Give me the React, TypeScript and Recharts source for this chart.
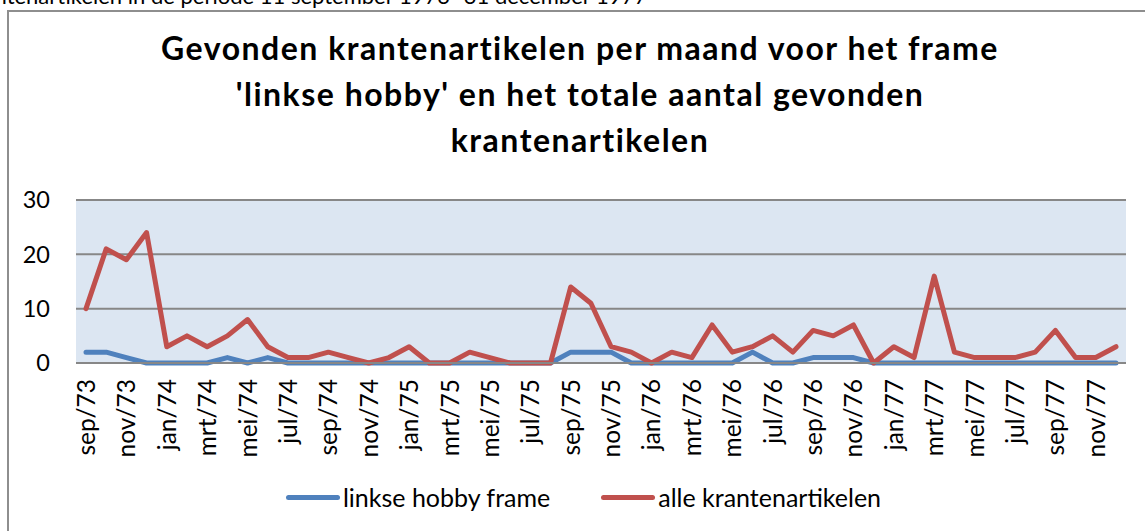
import React from 'react';
import { LineChart, Line, XAxis, YAxis, CartesianGrid, Legend } from 'recharts';

const months: string[] = [
  'sep/73', 'okt/73', 'nov/73', 'dec/73',
  'jan/74', 'feb/74', 'mrt/74', 'apr/74', 'mei/74', 'jun/74', 'jul/74', 'aug/74', 'sep/74', 'okt/74', 'nov/74', 'dec/74',
  'jan/75', 'feb/75', 'mrt/75', 'apr/75', 'mei/75', 'jun/75', 'jul/75', 'aug/75', 'sep/75', 'okt/75', 'nov/75', 'dec/75',
  'jan/76', 'feb/76', 'mrt/76', 'apr/76', 'mei/76', 'jun/76', 'jul/76', 'aug/76', 'sep/76', 'okt/76', 'nov/76', 'dec/76',
  'jan/77', 'feb/77', 'mrt/77', 'apr/77', 'mei/77', 'jun/77', 'jul/77', 'aug/77', 'sep/77', 'okt/77', 'nov/77', 'dec/77',
];

const linkseHobby: number[] = [
  2, 2, 1, 0,
  0, 0, 0, 1, 0, 1, 0, 0, 0, 0, 0, 0,
  0, 0, 0, 0, 0, 0, 0, 0, 2, 2, 2, 0,
  0, 0, 0, 0, 0, 2, 0, 0, 1, 1, 1, 0,
  0, 0, 0, 0, 0, 0, 0, 0, 0, 0, 0, 0,
];

const alleArtikelen: number[] = [
  10, 21, 19, 24,
  3, 5, 3, 5, 8, 3, 1, 1, 2, 1, 0, 1,
  3, 0, 0, 2, 1, 0, 0, 0, 14, 11, 3, 2,
  0, 2, 1, 7, 2, 3, 5, 2, 6, 5, 7, 0,
  3, 1, 16, 2, 1, 1, 1, 2, 6, 1, 1, 3,
];

const yTicks: number[] = [0, 10, 20, 30];

const titleLines: string[] = [
  'Gevonden krantenartikelen per maand voor het frame',
  "'linkse hobby' en het totale aantal gevonden",
  'krantenartikelen',
];

const topCaption = 'krantenartikelen in de periode 11 september 1973- 31 december 1977';

const seriesNames = { hobby: 'linkse hobby frame', alle: 'alle krantenartikelen' };
const BLUE = '#4F81BD';
const RED = '#C0504D';

const data = months.map((m, i) => ({ month: m, hobby: linkseHobby[i], alle: alleArtikelen[i] }));

const FONT = 'Lato, "Open Sans", sans-serif';

const XTick = (props: any) => {
  const { x, y, payload } = props;
  return (
    <text
      x={0}
      y={0}
      transform={`translate(${x + 9}, ${y + 8}) rotate(-90)`}
      textAnchor="end"
      fontSize={24.5}
      fontFamily={FONT}
      fill="#000"
    >
      {payload.value}
    </text>
  );
};

const LegendContent = () => {
  const items = [
    { name: seriesNames.hobby, color: BLUE },
    { name: seriesNames.alle, color: RED },
  ];
  return (
    <div
      style={{
        height: 48,
        display: 'flex',
        justifyContent: 'center',
        alignItems: 'center',
        fontFamily: FONT,
        fontSize: 25,
        color: '#000',
        paddingLeft: 25,
      }}
    >
      {items.map((it, idx) => (
        <div key={it.name} style={{ display: 'flex', alignItems: 'center', marginLeft: idx === 0 ? 0 : 51 }}>
          <div style={{ width: 54, height: 5, borderRadius: 3, background: it.color, marginRight: 3 }} />
          <span>{it.name}</span>
        </div>
      ))}
    </div>
  );
};

export default function App() {
  return (
    <div
      style={{
        position: 'absolute',
        left: 0,
        top: 0,
        width: 1145,
        height: 531,
        background: '#fff',
        overflow: 'hidden',
        fontFamily: FONT,
      }}
    >
      <div
        style={{
          position: 'absolute',
          right: 1145 - 647,
          top: -15.5,
          fontSize: 22,
          lineHeight: '22px',
          whiteSpace: 'nowrap',
          color: '#000',
        }}
      >
        {topCaption}
      </div>
      <div
        style={{
          position: 'absolute',
          left: 7,
          top: 10,
          width: 1160,
          height: 600,
          border: '2px solid #8e8e8e',
          boxSizing: 'border-box',
        }}
      />
      <div
        style={{
          position: 'absolute',
          left: 0,
          top: 25,
          width: 1160,
          textAlign: 'center',
          fontWeight: 700,
          fontSize: 32,
          letterSpacing: 1.5,
          lineHeight: '46px',
          color: '#000',
        }}
      >
        {titleLines.map((t) => (
          <div key={t}>{t}</div>
        ))}
      </div>
      <div style={{ position: 'absolute', left: 0, top: 0 }}>
        <LineChart width={1145} height={531} data={data} margin={{ top: 200, right: 19, left: 16, bottom: 10 }}>
          <CartesianGrid vertical={false} stroke="#878787" strokeWidth={2} fill="#dce6f2" />
          <XAxis
            dataKey="month"
            interval={1}
            padding={{ left: 10, right: 10 }}
            tickLine={false}
            axisLine={{ stroke: '#878787', strokeWidth: 2 }}
            tick={<XTick />}
            height={110}
          />
          <YAxis
            domain={[0, 30]}
            ticks={yTicks}
            width={60}
            axisLine={false}
            tickLine={false}
            tickMargin={20}
            tick={{ fontSize: 23.5, fill: '#000', fontFamily: FONT }}
          />
          <Legend verticalAlign="bottom" content={<LegendContent />} />
          <Line
            dataKey="hobby"
            name={seriesNames.hobby}
            stroke={BLUE}
            strokeWidth={5}
            dot={false}
            type="linear"
            strokeLinecap="round"
            strokeLinejoin="round"
            isAnimationActive={false}
          />
          <Line
            dataKey="alle"
            name={seriesNames.alle}
            stroke={RED}
            strokeWidth={5}
            dot={false}
            type="linear"
            strokeLinecap="round"
            strokeLinejoin="round"
            isAnimationActive={false}
          />
        </LineChart>
      </div>
    </div>
  );
}
